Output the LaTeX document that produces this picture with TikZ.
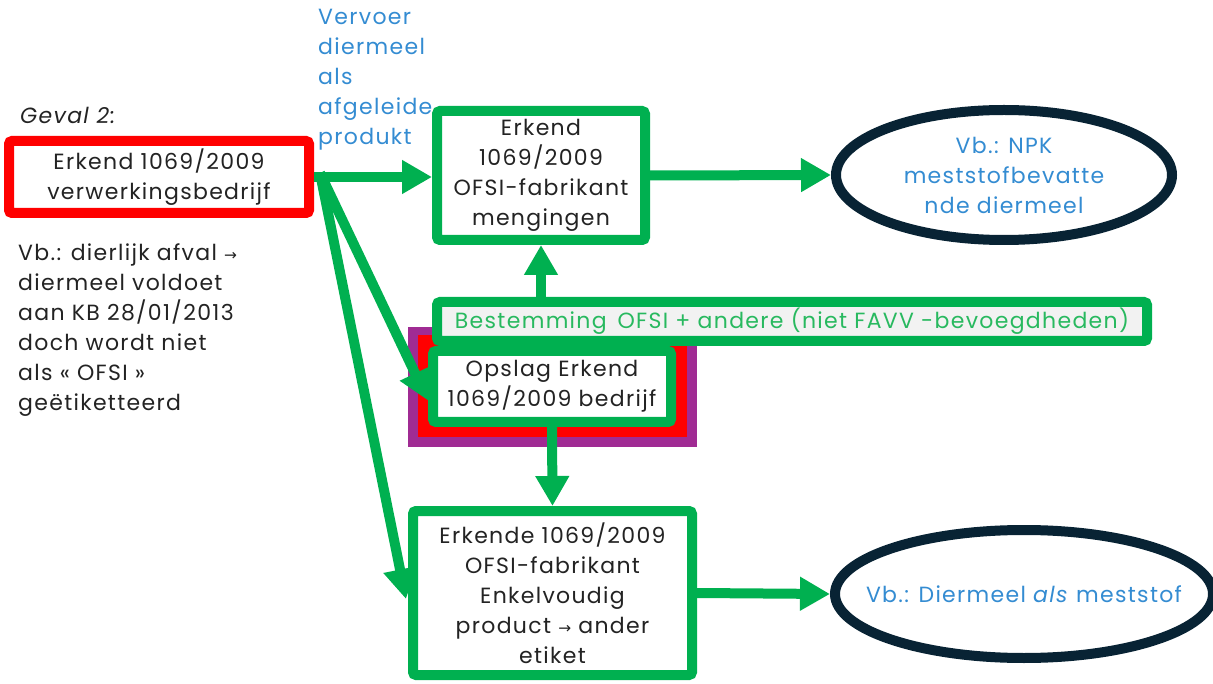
\documentclass[tikz,border=0pt]{standalone}
\usepackage{fontspec}
\setmainfont{Poppins}[LetterSpace=6]
\newfontfamily\symfont{DejaVu Sans}[Scale=0.7]
\usetikzlibrary{arrows.meta,shapes.geometric,calc}
\definecolor{gr}{RGB}{0,176,80}
\definecolor{grtext}{RGB}{40,185,95}
\definecolor{bl}{RGB}{52,140,210}
\definecolor{navy}{RGB}{8,35,52}
\definecolor{purp}{RGB}{160,43,147}
\definecolor{txt}{RGB}{35,35,35}
\definecolor{lgray}{RGB}{242,242,242}
\tikzset{
  every node/.style={font=\fontsize{22}{30}\selectfont, text=txt, inner sep=0pt},
  gbox/.style={draw=gr, line width=10pt, fill=white, rounded corners=3pt, align=center},
  rbox/.style={draw=red, line width=10pt, fill=white, rounded corners=3pt, align=center},
  ell/.style={ellipse, draw=navy, line width=10pt, fill=white, align=center, text=bl},
  garrow/.style={draw=gr, line width=10pt, -{Triangle[length=30pt,width=32pt]}},
}
\begin{document}
\begin{tikzpicture}[x=1pt,y=-1pt]
\useasboundingbox (0,0) rectangle (1213,684);
% background layers behind Opslag box
\fill[purp] (408,327) rectangle (697,447);
\fill[red] (418,335) rectangle (687,437);

\node[rbox, minimum width=300, minimum height=72] (src) at (159,177) {Erkend 1069/2009\\verwerkingsbedrijf};
\node[anchor=west, font=\fontsize{22}{30}\selectfont\itshape] (geval) at (20,115) {Geval 2:};
\node[anchor=west, align=left] (vb) at (18,330) {Vb.: dierlijk afval {\symfont →}\\diermeel voldoet\\aan KB 28/01/2013\\doch wordt niet\\als « OFSI »\\geëtiketteerd};
\node[anchor=west, align=left, text=bl] (vervoer) at (318,80) {Vervoer\\diermeel\\als\\afgeleide\\produkt};

\node[gbox, minimum width=208, minimum height=129] (top) at (541,175.5) {Erkend\\1069/2009\\OFSI-fabrikant\\mengingen};
\node[ell, minimum width=336, minimum height=130] (ellTop) at (1004,175) {Vb.: NPK\\meststofbevatte\\nde diermeel};

\node[gbox, minimum width=238, minimum height=71] (opslag) at (552,386.5) {Opslag Erkend\\1069/2009 bedrijf};
\node[gbox, fill=lgray, minimum width=710, minimum height=39, text=grtext] (best) at (792,321.5) {Bestemming\, OFSI + andere (niet FAVV -bevoegdheden)};

\node[gbox, minimum width=279, minimum height=164] (bot) at (552.5,593) {Erkende 1069/2009\\OFSI-fabrikant\\Enkelvoudig\\product {\symfont →} ander\\etiket};
\node[ell, inner xsep=-40pt, minimum width=378, minimum height=128] (ellBot) at (1024,594) {Vb.: Diermeel \textit{als} meststof};

% connectors
\draw[garrow] (src.east) -- (src.east -| top.west);
\draw[garrow] (top.east) -- (ellTop.west);
\draw[garrow] (best.north -| top.south) -- (top.south);
\draw[garrow] (opslag.south) -- (bot.north);
\draw[garrow] (bot.east) -- (ellBot.west);
\draw[garrow] ([xshift=6pt,yshift=4pt]src.east) -- ([yshift=-14pt]opslag.west);
\draw[garrow] ([xshift=6pt,yshift=4pt]src.east) -- ([xshift=-2pt,yshift=-6pt]bot.west);
\end{tikzpicture}
\end{document}
